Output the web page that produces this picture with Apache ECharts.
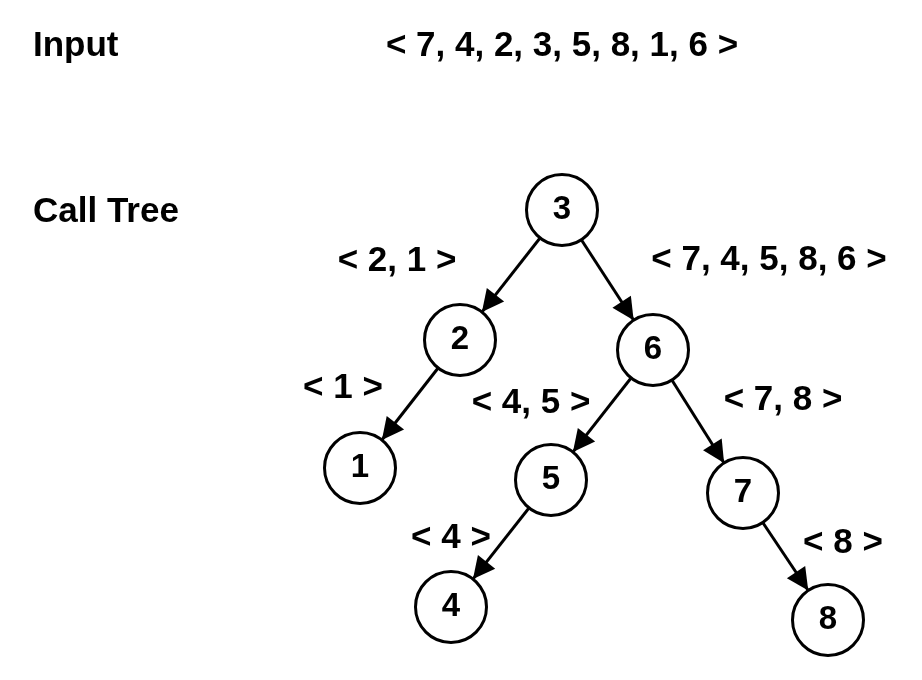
<!DOCTYPE html>
<html>
<head>
<meta charset="utf-8">
<script src="https://cdn.jsdelivr.net/npm/echarts@6/dist/echarts.min.js"></script>
<style>
  html, body { margin: 0; padding: 0; background: #fff; }
  #chart { width: 922px; height: 680px; }
</style>
</head>
<body>
<div id="chart"></div>
<script>
// call tree nodes (value shown in circle) and where they sit
const nodeNames = ['3', '2', '6', '1', '5', '7', '4', '8'];
const nodeX = [562, 460, 653, 360, 551, 743, 451, 828];
const nodeY = [210, 340, 350, 468, 480, 493, 607, 620];

// parent -> child calls
const linkSource = ['3', '3', '2', '6', '6', '5', '7'];
const linkTarget = ['2', '6', '1', '5', '7', '4', '8'];

// sub-array passed to each call
const callLabels = ['< 7, 4, 2, 3, 5, 8, 1, 6 >', '< 2, 1 >', '< 7, 4, 5, 8, 6 >', '< 1 >', '< 4, 5 >', '< 7, 8 >', '< 4 >', '< 8 >'];
const callLabelX = [562, 397, 769, 343, 531, 783, 451, 843];
const callLabelY = [46, 261, 260, 388, 403, 400, 538, 543];

// row headings
const headings = ['Input', 'Call Tree'];
const headingX = [33, 33];
const headingY = [46, 212];

const FONT = '"Liberation Sans", Arial, Helvetica, sans-serif';

// solid triangle whose tip sits at the symbol centre (edge end = circle edge)
const ARROW = 'path://M-20,0 M20,0 M0,20 L10,40 L-10,40 Z';

const chart = echarts.init(document.getElementById('chart'));

const nodes = nodeNames.map((n, i) => ({ name: n, value: [nodeX[i], nodeY[i]] }));
const links = linkSource.map((s, i) => ({ source: s, target: linkTarget[i] }));

const textLabel = (size, pos) => ({
    show: true,
    position: pos,
    distance: 0,
    formatter: '{b}',
    color: '#000',
    fontFamily: FONT,
    fontWeight: 'bold',
    fontSize: size
});

chart.setOption({
    animation: false,
    backgroundColor: '#ffffff',
    grid: { left: 0, right: 0, top: 0, bottom: 0 },
    xAxis: { type: 'value', min: 0, max: 922, show: false },
    yAxis: { type: 'value', min: 0, max: 680, inverse: true, show: false },
    series: [
        {
            type: 'graph',
            coordinateSystem: 'cartesian2d',
            layout: 'none',
            symbol: 'circle',
            symbolSize: 71,
            data: nodes,
            links: links,
            edgeSymbol: ['none', ARROW],
            edgeSymbolSize: [0, 44],
            itemStyle: { color: '#ffffff', borderColor: '#000000', borderWidth: 3, opacity: 1 },
            lineStyle: { color: '#000000', width: 3, opacity: 1 },
            label: textLabel(33, 'inside'),
            emphasis: { disabled: true },
            z: 3
        },
        {
            type: 'scatter',
            symbolSize: 0,
            itemStyle: { opacity: 1 },
            data: callLabels.map((t, i) => ({ name: t, value: [callLabelX[i], callLabelY[i]] })),
            label: textLabel(35, 'inside'),
            silent: true
        },
        {
            type: 'scatter',
            symbolSize: 0,
            itemStyle: { opacity: 1 },
            data: headings.map((t, i) => ({ name: t, value: [headingX[i], headingY[i]] })),
            label: textLabel(35, 'right'),
            silent: true
        }
    ]
});
</script>
</body>
</html>
